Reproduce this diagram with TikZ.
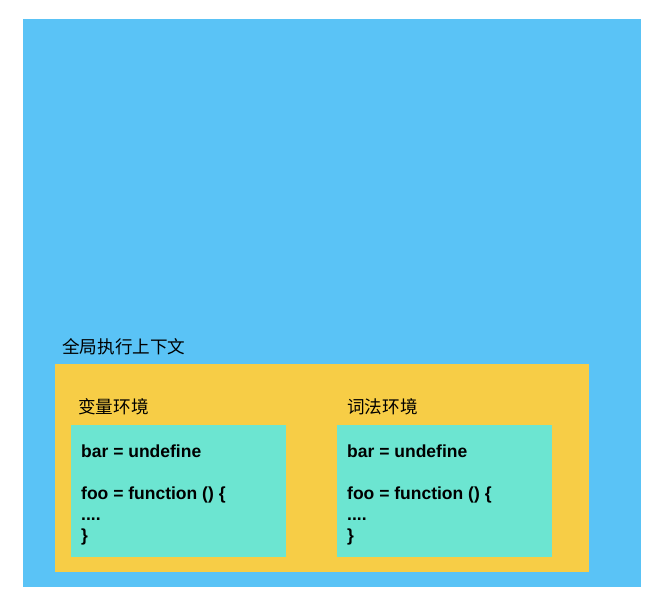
\documentclass[tikz,border=0pt]{standalone}
\usepackage{fontspec}
\setmainfont{Liberation Sans}
\newfontfamily\cjk{Noto Sans CJK SC}
\definecolor{bgblue}{RGB}{90,195,246}
\definecolor{ctxyellow}{RGB}{247,205,70}
\definecolor{envgreen}{RGB}{108,229,209}
\begin{document}
\begin{tikzpicture}[x=1pt,y=-1pt,
  panel/.style={draw=none, inner sep=0pt, outer sep=0pt},
  cntitle/.style={anchor=west, inner sep=0pt, font=\cjk\fontsize{17.6}{20}\selectfont},
  codeline/.style={anchor=base west, inner sep=0pt, font=\bfseries\fontsize{17.5}{21}\selectfont}]
\useasboundingbox (0,0) rectangle (666,602);
\fill[white] (0,0) rectangle (666,602);
\node[panel, fill=bgblue, minimum width=618pt, minimum height=568pt] (stack) at (332,303) {};
\node[panel, fill=ctxyellow, minimum width=534pt, minimum height=208pt] (global) at (322,468) {};
\node[panel, fill=envgreen, minimum width=215pt, minimum height=132pt] (varenv) at (178.5,491) {};
\node[panel, fill=envgreen, minimum width=215pt, minimum height=132pt] (lexenv) at (444.5,491) {};
\node[cntitle] (gtitle) at (62,347) {全局执行上下文};
\node[cntitle] (vtitle) at (78,406.5) {变量环境};
\node[cntitle] (ltitle) at (347,406.5) {词法环境};
\node[codeline] (v1) at (81,457) {bar = undefine};
\node[codeline] (v2) at (81,499) {foo = function () \{};
\node[codeline] (v3) at (81,520) {....};
\node[codeline] (v4) at (81,541) {\}};
\node[codeline] (l1) at (347,457) {bar = undefine};
\node[codeline] (l2) at (347,499) {foo = function () \{};
\node[codeline] (l3) at (347,520) {....};
\node[codeline] (l4) at (347,541) {\}};
\end{tikzpicture}
\end{document}
